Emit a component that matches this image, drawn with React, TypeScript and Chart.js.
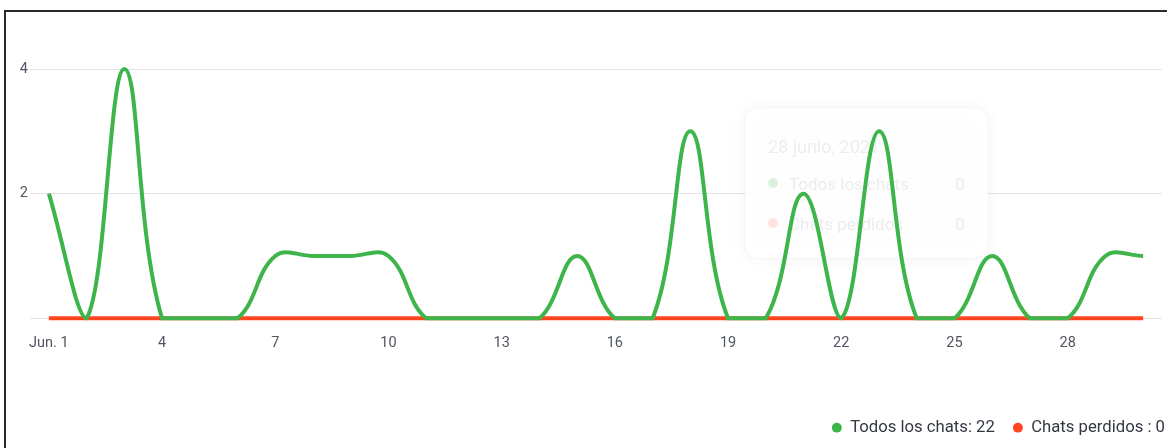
import React, { useEffect, useRef } from "react";
import { Chart, registerables } from "chart.js";

Chart.register(...registerables);

const days: number[] = Array.from({ length: 30 }, (_, i) => i + 1);
const categories: string[] = days.map((d) => (d === 1 ? "Jun. 1" : String(d)));
const todosLosChats: number[] = [2, 0, 4, 0, 0, 0, 1, 1, 1, 1, 0, 0, 0, 0, 1, 0, 0, 3, 0, 0, 2, 0, 3, 0, 0, 1, 0, 0, 1, 1];
const chatsPerdidos: number[] = [0, 0, 0, 0, 0, 0, 0, 0, 0, 0, 0, 0, 0, 0, 0, 0, 0, 0, 0, 0, 0, 0, 0, 0, 0, 0, 0, 0, 0, 0];
const seriesNames: string[] = ["Todos los chats", "Chats perdidos"];
const seriesColors: string[] = ["#3eb54a", "#ff4520"];
const yTicks: number[] = [0, 2, 4];
const tooltipTitle = "28 junio, 2021";
const tooltipValues: number[] = [0, 0];

const FONT = "Roboto, 'Open Sans', sans-serif";

const ghostTooltip = {
  id: "ghostTooltip",
  beforeDatasetsDraw(chart: any) {
    const { ctx, chartArea } = chart;
    const x = chartArea.left + 715;
    const y = chartArea.top + 39;
    const w = 243;
    const h = 150;
    ctx.save();
    ctx.shadowColor = "rgba(0,0,0,0.05)";
    ctx.shadowBlur = 18;
    ctx.fillStyle = "rgba(255,255,255,0.9)";
    ctx.beginPath();
    (ctx as any).roundRect(x, y, w, h, 12);
    ctx.fill();
    ctx.shadowColor = "transparent";
    ctx.strokeStyle = "rgba(0,0,0,0.03)";
    ctx.lineWidth = 1;
    ctx.stroke();
    ctx.font = `18px ${FONT}`;
    ctx.textBaseline = "middle";
    ctx.fillStyle = "rgba(0,0,0,0.07)";
    ctx.fillText(tooltipTitle, x + 23, y + 40);
    const dotColors = ["rgba(62,181,74,0.18)", "rgba(255,69,32,0.15)"];
    seriesNames.forEach((name, i) => {
      const ry = y + 78 + i * 40;
      ctx.fillStyle = dotColors[i];
      ctx.beginPath();
      ctx.arc(x + 28, ry - 3, 5, 0, Math.PI * 2);
      ctx.fill();
      ctx.fillStyle = "rgba(0,0,0,0.08)";
      ctx.font = `17px ${FONT}`;
      ctx.fillText(name, x + 44, ry);
      ctx.fillText(String(tooltipValues[i]), x + 210, ry);
    });
    ctx.restore();
  },
};

export default function App() {
  const canvasRef = useRef<HTMLCanvasElement | null>(null);

  useEffect(() => {
    document.body.style.margin = "0";
    const canvas = canvasRef.current;
    if (!canvas) return;
    const sum = (a: number[]) => a.reduce((s, v) => s + v, 0);
    const chart = new Chart(canvas, {
      type: "line",
      data: {
        labels: categories,
        datasets: [
          {
            label: seriesNames[0],
            data: todosLosChats,
            borderColor: seriesColors[0],
            backgroundColor: seriesColors[0],
            borderWidth: 4,
            pointRadius: 0,
            tension: 0.4,
            fill: false,
            clip: false,
          },
          {
            label: seriesNames[1],
            data: chatsPerdidos,
            borderColor: seriesColors[1],
            backgroundColor: seriesColors[1],
            borderWidth: 4,
            pointRadius: 0,
            tension: 0.4,
            fill: false,
            clip: false,
          },
        ],
      },
      options: {
        responsive: false,
        animation: false,
        layout: { padding: { top: 69, bottom: 9, left: 0, right: 0 } },
        plugins: {
          tooltip: { enabled: false },
          legend: {
            position: "bottom",
            align: "end",
            labels: {
              usePointStyle: true,
              pointStyle: "circle",
              boxWidth: 10,
              boxHeight: 7,
              padding: 18,
              color: "#333842",
              font: { family: FONT, size: 16.7 },
              generateLabels(chart: any) {
                const dsets = chart.data.datasets;
                const seps = [": ", " : "];
                return dsets.map((ds: any, i: number) => ({
                  text: `${ds.label}${seps[i]}${sum(ds.data)}`,
                  fillStyle: ds.borderColor,
                  strokeStyle: ds.borderColor,
                  lineWidth: 0,
                  pointStyle: "circle",
                  hidden: false,
                  datasetIndex: i,
                  fontColor: "#333842",
                }));
              },
            },
          },
        },
        scales: {
          x: {
            offset: true,
            grid: { display: false, drawTicks: false },
            border: { display: false },
            ticks: {
              autoSkip: false,
              maxRotation: 0,
              padding: 16,
              color: "#505562",
              font: { family: FONT, size: 14.5 },
              callback: (_v: any, i: number) => (i % 3 === 0 ? categories[i] : ""),
            },
            afterFit: (s: any) => {
              s.height = 83;
            },
          },
          y: {
            min: 0,
            max: 4,
            afterBuildTicks: (s: any) => {
              s.ticks = yTicks.map((v) => ({ value: v }));
            },
            grid: { color: "#e4e4e4", drawTicks: false, lineWidth: 1 },
            border: { display: false },
            ticks: {
              padding: 2,
              color: "#505562",
              font: { family: FONT, size: 14.5 },
              callback: (v: any) => (v === 0 ? "" : String(v)),
            },
            afterFit: (s: any) => {
              s.width = 30;
            },
          },
          y2: {
            position: "right",
            display: true,
            grid: { display: false, drawTicks: false },
            border: { display: false },
            ticks: { display: false },
            afterFit: (s: any) => {
              s.width = 21;
            },
          },
        },
      },
      plugins: [ghostTooltip],
    } as any);
    return () => chart.destroy();
  }, []);

  return (
    <div style={{ position: "relative", width: 1167, height: 448, overflow: "hidden", background: "#fff" }}>
      <canvas ref={canvasRef} width={1183} height={455} style={{ position: "absolute", left: 0, top: 0, width: 1183, height: 455 }} />
      <div style={{ position: "absolute", left: 4, top: 10, right: 0, height: 2, background: "#2a2a2a" }} />
      <div style={{ position: "absolute", left: 4, top: 10, bottom: 0, width: 2, background: "#2a2a2a" }} />
    </div>
  );
}
